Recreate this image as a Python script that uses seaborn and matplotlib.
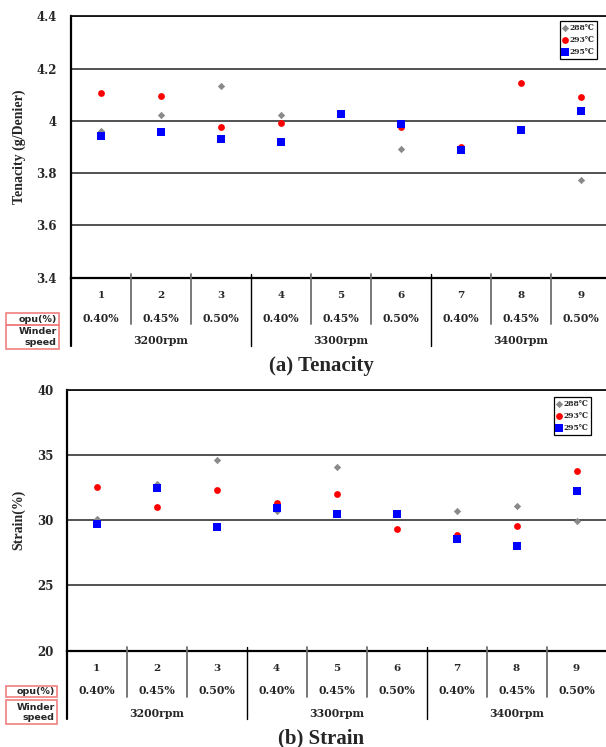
import numpy as np
import pandas as pd
import matplotlib
matplotlib.use("Agg")
import matplotlib.pyplot as plt
import matplotlib.transforms as mtransforms
from matplotlib.patches import Rectangle
from matplotlib.font_manager import FontProperties
import seaborn as sns

# ---------------- data ----------------
categories = [1, 2, 3, 4, 5, 6, 7, 8, 9]
opu_labels = ["0.40%", "0.45%", "0.50%", "0.40%", "0.45%", "0.50%", "0.40%", "0.45%", "0.50%"]
speed_labels = ["3200rpm", "3300rpm", "3400rpm"]
speed_centers = [2, 5, 8]
series_names = ["288℃", "293℃", "295℃"]

tenacity_288 = [3.963, 4.024, 4.132, 4.022, 4.030, 3.891, 3.892, 3.968, 3.775]
tenacity_293 = [4.108, 4.096, 3.977, 3.991, 4.025, 3.975, 3.901, 4.146, 4.091]
tenacity_295 = [3.942, 3.958, 3.931, 3.919, 4.025, 3.987, 3.888, 3.965, 4.038]

strain_288 = [30.10, 32.82, 34.62, 30.72, 34.10, 30.50, 30.74, 31.10, 29.97]
strain_293 = [32.54, 31.00, 32.31, 31.33, 32.03, 29.31, 28.85, 29.59, 33.77]
strain_295 = [29.74, 32.51, 29.51, 30.97, 30.51, 30.51, 28.56, 28.05, 32.21]

tenacity_ticks = [3.4, 3.6, 3.8, 4.0, 4.2, 4.4]
tenacity_ticklabels = ["3.4", "3.6", "3.8", "4", "4.2", "4.4"]
strain_ticks = [20, 25, 30, 35, 40]
strain_ticklabels = ["20", "25", "30", "35", "40"]

# ---------------- style ----------------
sns.set_style("white")
plt.rcParams["font.family"] = ["DejaVu Serif", "DejaVu Sans"]

colors = ["#8a8a8a", "#ff0000", "#0000ff"]
markers = ["D", "o", "s"]
msizes = [14, 24, 34]

W, H = 606, 747
fig = plt.figure(figsize=(W / 100, H / 100), dpi=100)


def px_rect(x0, y0, x1, y1):
    return [x0 / W, 1 - y1 / H, (x1 - x0) / W, (y1 - y0) / H]


def panel(rect_px, series, ylim, ticks, ticklabels, ylabel, title, title_y,
          legend_anchor, tick_pad, box_px):
    x0, y0, x1, y1 = rect_px
    ax = fig.add_axes(px_rect(x0, y0, x1, y1))
    hpx = y1 - y0
    for vals, name, c, m, s in zip(series, series_names, colors, markers, msizes):
        df = pd.DataFrame({"x": categories, "y": vals})
        sns.scatterplot(data=df, x="x", y="y", color=c, marker=m, s=s,
                        linewidth=0, label=name, ax=ax, legend=False, zorder=3)
    ax.set_xlim(0.5, 0.5 + (W - x0) / ((x1 - x0) / ((W - x0) / 60.0)) if False else 0.5 + (W - x0) / 60.0)
    ax.set_ylim(*ylim)
    ax.set_yticks(ticks)
    ax.set_yticklabels(ticklabels, fontsize=8.5, fontweight="bold",
                       family="DejaVu Serif")
    ax.tick_params(axis="y", length=0, pad=tick_pad)
    ax.set_xticks([])
    ax.set_xlabel("")
    ax.set_ylabel("")
    ax.yaxis.grid(True, color="#222222", linewidth=1.1)
    ax.set_axisbelow(True)
    for sp in ["left", "bottom"]:
        ax.spines[sp].set_color("black")
        ax.spines[sp].set_linewidth(1.6)
    ax.spines["top"].set_color("#111111")
    ax.spines["top"].set_linewidth(1.3)
    ax.spines["right"].set_visible(False)

    trans = mtransforms.blended_transform_factory(ax.transData, ax.transAxes)
    f = lambda p: -p / hpx
    # table lines
    for b in np.arange(1.5, 9.0, 1.0):
        major = b in (3.5, 6.5)
        ax.plot([b, b], [4 / hpx, f(68 if major else 46)], transform=trans,
                color="black" if major else "#6e6e6e",
                lw=1.0 if major else 1.3, clip_on=False, zorder=5)
    ax.plot([0.5, 0.5], [0, f(68)], transform=trans, color="black", lw=1.6,
            clip_on=False)
    # table text
    for c, lab in zip(categories, opu_labels):
        ax.text(c, f(18), str(c), transform=trans, ha="center", va="center",
                fontsize=7.5, fontweight="bold", family="DejaVu Serif")
        ax.text(c, f(40.5), lab, transform=trans, ha="center", va="center",
                fontsize=7.8, fontweight="bold", family="DejaVu Serif")
    for c, lab in zip(speed_centers, speed_labels):
        ax.text(c, f(63), lab, transform=trans, ha="center", va="center",
                fontsize=7.8, fontweight="bold", family="DejaVu Serif")

    # legend
    prop = FontProperties(family=["DejaVu Serif", "DejaVu Sans"], weight="bold",
                          size=5.5)
    leg = ax.legend(loc="upper right", bbox_to_anchor=legend_anchor,
                    borderaxespad=0, prop=prop, frameon=True, fancybox=False,
                    framealpha=1, edgecolor="black", handlelength=0.7,
                    handletextpad=0.2, borderpad=0.35, labelspacing=0.55,
                    scatterpoints=1)
    leg.get_frame().set_linewidth(0.9)

    # y label
    fig.text(19 / W, 1 - (y0 + y1) / 2 / H, ylabel, rotation=90, ha="center",
             va="center", fontsize=10, fontweight="bold",
             family="Liberation Serif")
    # title
    fig.text(321 / W, 1 - title_y / H, title, ha="center", va="center",
             fontsize=15, fontweight="bold", family="Liberation Serif")

    # red label boxes
    bx0, bx1, oy0, oy1, wy0, wy1 = box_px
    for (ya, yb) in [(oy0, oy1), (wy0, wy1)]:
        fig.patches.append(Rectangle((bx0 / W, 1 - yb / H), (bx1 - bx0) / W,
                                     (yb - ya) / H, transform=fig.transFigure,
                                     facecolor="none", edgecolor="#f08080",
                                     lw=1.2))
    fig.text((bx1 - 2.5) / W, 1 - (oy0 + oy1) / 2 / H, "opu(%)", ha="right",
             va="center", fontsize=6.8, family="DejaVu Sans", fontweight="bold")
    fig.text((bx1 - 2.5) / W, 1 - (wy0 + wy1) / 2 / H, "Winder\nspeed",
             ha="right", va="center", fontsize=6.8, family="DejaVu Sans",
             fontweight="bold", linespacing=1.15)
    return ax


panel((71, 16.3, W, 277.7), [tenacity_288, tenacity_293, tenacity_295],
      (3.4, 4.4), tenacity_ticks, tenacity_ticklabels, "Tenacity (g/Denier)",
      "(a) Tenacity", 366.5, (0.983, 0.982), 10, (5.7, 59.3, 313.3, 325, 325, 349))

panel((66.5, 390, W, 650.5), [strain_288, strain_293, strain_295],
      (20, 40), strain_ticks, strain_ticklabels, "Strain(%)",
      "(b) Strain", 738, (0.972, 0.973), 9, (5.8, 57.2, 685.7, 696.7, 700, 724.3))

fig.savefig("out.png", dpi=100)
